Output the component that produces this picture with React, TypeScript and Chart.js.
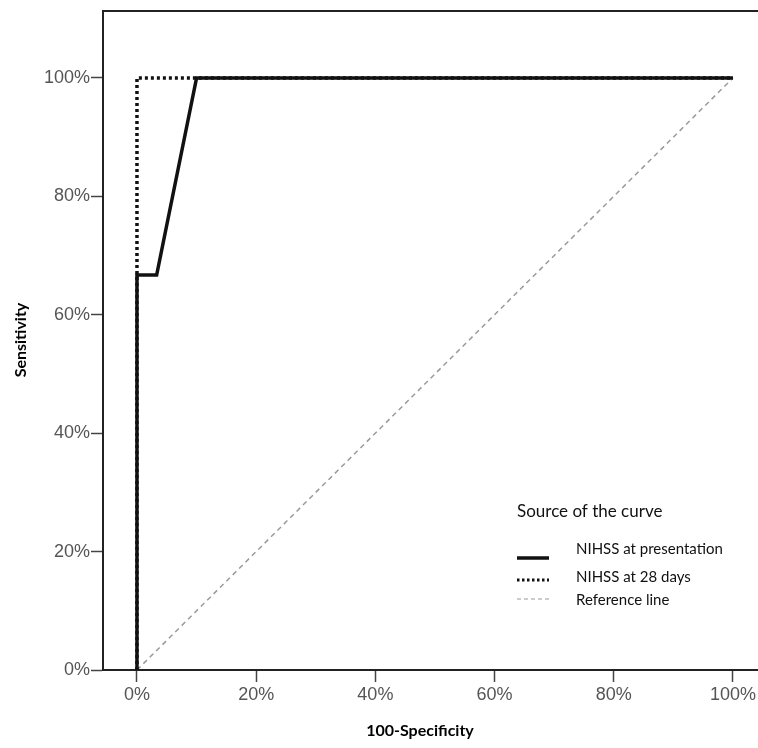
import React, { useEffect, useRef } from "react";
import { Chart, registerables } from "chart.js";

Chart.register(...registerables);

// Data (percent)
const presentationX = [0, 0, 3.3, 10, 100];
const presentationY = [0, 66.7, 66.7, 100, 100];
const days28X = [0, 0, 100];
const days28Y = [0, 100, 100];
const referenceX = [0, 100];
const referenceY = [0, 100];

const xTickValues = [0, 20, 40, 60, 80, 100];
const yTickValues = [0, 20, 40, 60, 80, 100];

const seriesLabels = ["NIHSS at presentation", "NIHSS at 28 days", "Reference line"];
const legendTitle = "Source of the curve";
const xTitle = "100-Specificity";
const yTitle = "Sensitivity";

const toPoints = (xs: number[], ys: number[]) => xs.map((x, i) => ({ x, y: ys[i] }));

const TICK_FONT = "'Liberation Sans', Arial, sans-serif";
const TEXT_FONT = "Lato, 'Open Sans', sans-serif";

const tickColorFor = (values: number[]) => (c: any) =>
  c && c.tick && values.includes(c.tick.value) ? "#444" : "rgba(0,0,0,0)";

const overlayPlugin = {
  id: "overlay",
  afterDraw(chart: any) {
    const { ctx, chartArea, width } = chart;
    ctx.save();
    // top frame line
    ctx.strokeStyle = "#222";
    ctx.lineWidth = 2;
    ctx.beginPath();
    ctx.moveTo(chartArea.left - 1, chartArea.top);
    ctx.lineTo(width, chartArea.top);
    ctx.stroke();

    // axis titles
    ctx.fillStyle = "#000";
    ctx.font = `bold 16px ${TEXT_FONT}`;
    ctx.textAlign = "center";
    ctx.textBaseline = "middle";
    ctx.fillText(xTitle, 420, 731);
    ctx.save();
    ctx.translate(21, 340);
    ctx.rotate(-Math.PI / 2);
    ctx.fillText(yTitle, 0, 0);
    ctx.restore();

    // legend
    ctx.textAlign = "left";
    ctx.font = `17px ${TEXT_FONT}`;
    ctx.fillStyle = "#111";
    ctx.fillText(legendTitle, 517, 512);
    ctx.font = `15px ${TEXT_FONT}`;
    const items = [
      { ly: 558, ty: 549, w: 3.5, dash: [] as number[] },
      { ly: 580, ty: 577, w: 3, dash: [2.5, 2.5] },
      { ly: 599, ty: 600, w: 1.2, dash: [4, 3] },
    ];
    chart.data.datasets.forEach((ds: any, i: number) => {
      const it = items[i];
      ctx.save();
      ctx.strokeStyle = ds.borderColor;
      ctx.lineWidth = it.w;
      ctx.setLineDash(it.dash);
      ctx.beginPath();
      ctx.moveTo(517, it.ly);
      ctx.lineTo(549, it.ly);
      ctx.stroke();
      ctx.restore();
      ctx.fillStyle = "#111";
      ctx.fillText(seriesLabels[i], 576, it.ty);
    });
    ctx.restore();
  },
};

export default function App() {
  const ref = useRef<HTMLCanvasElement | null>(null);

  useEffect(() => {
    if (!ref.current) return;
    const chart = new Chart(ref.current, {
      type: "line",
      data: {
        datasets: [
          {
            label: seriesLabels[0],
            data: toPoints(presentationX, presentationY),
            borderColor: "#111",
            borderWidth: 3.5,
            pointRadius: 0,
            tension: 0,
            fill: false,
          },
          {
            label: seriesLabels[1],
            data: toPoints(days28X, days28Y),
            borderColor: "#111",
            borderWidth: 3.5,
            borderDash: [3, 3],
            pointRadius: 0,
            tension: 0,
            fill: false,
          },
          {
            label: seriesLabels[2],
            data: toPoints(referenceX, referenceY),
            borderColor: "#9a9a9a",
            borderWidth: 1.5,
            borderDash: [5, 4],
            pointRadius: 0,
            tension: 0,
            fill: false,
          },
        ],
      },
      options: {
        responsive: false,
        animation: false,
        layout: { padding: { top: 11, right: 0, left: 0, bottom: 0 } },
        plugins: {
          legend: { display: false },
          tooltip: { enabled: false },
        },
        scales: {
          x: {
            type: "linear",
            min: -5.7,
            max: 104.2,
            afterFit: (s: any) => {
              s.height = 78;
              s.paddingRight = 0;
              s.paddingLeft = 0;
            },
            afterBuildTicks: (s: any) => {
              s.ticks = xTickValues.map((v) => ({ value: v }));
            },
            border: { display: true, color: "#222", width: 2 },
            grid: {
              display: true,
              drawOnChartArea: false,
              tickLength: 12,
              color: "#444",
              tickColor: tickColorFor(xTickValues),
              tickWidth: 1.5,
            },
            ticks: {
              callback: (v: any) => `${v}%`,
              color: "#555",
              font: { family: TICK_FONT, size: 18 },
              padding: 2,
              maxRotation: 0,
            },
          },
          y: {
            type: "linear",
            min: 0,
            max: 111.3,
            afterFit: (s: any) => {
              s.width = 103;
              s.paddingTop = 0;
              s.paddingBottom = 0;
            },
            afterBuildTicks: (s: any) => {
              s.ticks = yTickValues.map((v) => ({ value: v }));
            },
            border: { display: true, color: "#222", width: 2 },
            grid: {
              display: true,
              drawOnChartArea: false,
              tickLength: 12,
              color: "#444",
              tickColor: tickColorFor(yTickValues),
              tickWidth: 1.5,
            },
            ticks: {
              callback: (v: any) => `${v}%`,
              color: "#555",
              font: { family: TICK_FONT, size: 18 },
              padding: 1,
            },
          },
        },
      },
      plugins: [overlayPlugin],
    });
    return () => chart.destroy();
  }, []);

  return (
    <div style={{ position: "absolute", left: 0, top: 0, width: 758, height: 748, background: "#fff" }}>
      <canvas ref={ref} width={758} height={748} style={{ width: 758, height: 748, display: "block" }} />
    </div>
  );
}
